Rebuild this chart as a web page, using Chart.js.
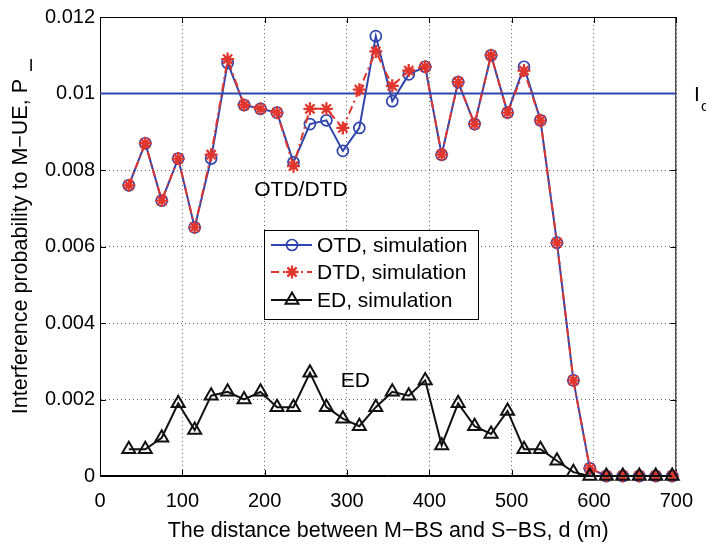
<!DOCTYPE html>
<html>
<head>
<meta charset="utf-8">
<script src="https://cdn.jsdelivr.net/npm/chart.js@4.4.1/dist/chart.umd.min.js"></script>
<style>
  html, body { margin: 0; padding: 0; background: #fff; }
  canvas { display: block; }
</style>
</head>
<body>
<canvas id="chart" width="706" height="547"></canvas>
<script>
// distance between M-BS and S-BS (m)
const distance = [35, 55, 75, 95, 115, 135, 155, 175, 195, 215, 235, 255, 275, 295, 315, 335, 355,
  375, 395, 415, 435, 455, 475, 495, 515, 535, 555, 575, 595, 615, 635, 655, 675, 695];

const otdSim = [0.0076, 0.0087, 0.0072, 0.0083, 0.0065, 0.0083, 0.0108, 0.0097, 0.0096, 0.0095,
  0.0082, 0.0092, 0.0093, 0.0085, 0.0091, 0.0115, 0.0098, 0.0105, 0.0107, 0.0084, 0.0103, 0.0092,
  0.0110, 0.0095, 0.0107, 0.0093, 0.0061, 0.0025, 0.0002, 0, 0, 0, 0, 0];

const dtdSim = [0.0076, 0.0087, 0.0072, 0.0083, 0.0065, 0.0084, 0.0109, 0.0097, 0.0096, 0.0095,
  0.0081, 0.0096, 0.0096, 0.0091, 0.0101, 0.0111, 0.0102, 0.0106, 0.0107, 0.0084, 0.0103, 0.0092,
  0.0110, 0.0095, 0.0106, 0.0093, 0.0061, 0.0025, 0.0002, 0, 0, 0, 0, 0];

const edSim = [0.0007, 0.0007, 0.0010, 0.0019, 0.0012, 0.0021, 0.0022, 0.0020, 0.0022, 0.0018,
  0.0018, 0.0027, 0.0018, 0.0015, 0.0013, 0.0018, 0.0022, 0.0021, 0.0025, 0.0008, 0.0019, 0.0013,
  0.0011, 0.0017, 0.0007, 0.0007, 0.0004, 0.0001, 0, 0, 0, 0, 0, 0];

const icLevel = 0.01;
const xTicks = [0, 100, 200, 300, 400, 500, 600, 700];
const yTicks = [0, 0.002, 0.004, 0.006, 0.008, 0.01, 0.012];
const legendLabels = ['OTD, simulation', 'DTD, simulation', 'ED, simulation'];

const BLUE = '#2f45ad';
const RED = '#e2362c';
const FONT = '"Liberation Sans", Arial, Helvetica, sans-serif';

const toPoints = ys => distance.map((d, i) => ({ x: d, y: ys[i] }));

// axes box + inward ticks (matlab style)
const frame = {
  id: 'frame',
  beforeDatasetsDraw(chart) {
    const { ctx, chartArea: a, scales: { x, y } } = chart;
    ctx.save();
    ctx.strokeStyle = '#000';
    ctx.lineWidth = 1;
    ctx.strokeRect(a.left + 0.5, a.top + 0.5, a.right - a.left - 1, a.bottom - a.top - 1);
    ctx.beginPath();
    xTicks.forEach(t => {
      const px = Math.round(x.getPixelForValue(t)) + 0.5;
      ctx.moveTo(px, a.bottom); ctx.lineTo(px, a.bottom - 6);
      ctx.moveTo(px, a.top); ctx.lineTo(px, a.top + 6);
    });
    yTicks.forEach(t => {
      const py = Math.round(y.getPixelForValue(t)) + 0.5;
      ctx.moveTo(a.left, py); ctx.lineTo(a.left + 6, py);
      ctx.moveTo(a.right, py); ctx.lineTo(a.right - 6, py);
    });
    ctx.stroke();
    ctx.restore();
  }
};

// labels, legend, axis titles
const extras = {
  id: 'extras',
  afterDraw(chart) {
    const { ctx, chartArea: a, scales: { x, y } } = chart;
    ctx.save();
    ctx.fillStyle = '#000';
    ctx.textBaseline = 'middle';
    ctx.textAlign = 'center';
    ctx.font = '21px ' + FONT;
    ctx.fillText('OTD/DTD', x.getPixelForValue(244), y.getPixelForValue(0.00747));
    ctx.fillText('ED', x.getPixelForValue(310), y.getPixelForValue(0.00248));

    // I_c next to the threshold line
    const yc = y.getPixelForValue(icLevel);
    ctx.textAlign = 'left';
    ctx.textBaseline = 'alphabetic';
    ctx.fillText('I', 694, yc + 7);
    ctx.font = '15px ' + FONT;
    ctx.fillText('c', 701, yc + 17);

    // x title
    ctx.font = '21.5px ' + FONT;
    ctx.textAlign = 'center';
    ctx.fillText('The distance between M\u2212BS and S\u2212BS, d (m)', (a.left + a.right) / 2, 537);

    // y title, subscript stays upright like the original
    const main = 'Interference probability to M\u2212UE, P';
    const w = ctx.measureText(main).width;
    ctx.save();
    ctx.translate(27, 79 + w);
    ctx.rotate(-Math.PI / 2);
    ctx.textAlign = 'left';
    ctx.fillText(main, 0, 0);
    ctx.restore();
    ctx.font = '17px ' + FONT;
    ctx.textAlign = 'center';
    ctx.fillText('I', 31, 71);

    // legend
    const box = { l: 264, t: 230, r: 478, b: 319 };
    ctx.fillStyle = '#fff';
    ctx.fillRect(box.l, box.t, box.r - box.l, box.b - box.t);
    ctx.strokeStyle = '#000';
    ctx.lineWidth = 1;
    ctx.strokeRect(box.l + 0.5, box.t + 0.5, box.r - box.l, box.b - box.t);
    const rows = [245, 272, 300];
    legendLabels.forEach((label, i) => {
      const ds = chart.data.datasets[i];
      const ry = rows[i];
      ctx.save();
      ctx.strokeStyle = ds.borderColor;
      ctx.lineWidth = ds.borderWidth;
      ctx.setLineDash(ds.borderDash || []);
      ctx.beginPath();
      ctx.moveTo(271, ry); ctx.lineTo(312, ry);
      ctx.stroke();
      ctx.setLineDash([]);
      ctx.strokeStyle = ds.pointBorderColor;
      ctx.fillStyle = ds.pointBackgroundColor;
      ctx.lineWidth = ds.pointBorderWidth;
      Chart.helpers.drawPoint(ctx, {
        pointStyle: ds.pointStyle, radius: ds.pointRadius, borderWidth: ds.pointBorderWidth, rotation: 0
      }, 292, ry);
      ctx.restore();
      ctx.fillStyle = '#000';
      ctx.font = '21px ' + FONT;
      ctx.textAlign = 'left';
      ctx.textBaseline = 'middle';
      ctx.fillText(label, 317, ry + 1);
    });
    ctx.restore();
  }
};

new Chart(document.getElementById('chart'), {
  type: 'line',
  data: {
    datasets: [
      {
        label: legendLabels[0],
        data: toPoints(otdSim),
        borderColor: BLUE,
        borderWidth: 2,
        pointStyle: 'circle',
        pointRadius: 5.5,
        pointBorderWidth: 1.7,
        pointBorderColor: BLUE,
        pointBackgroundColor: 'rgba(0,0,0,0)',
        order: 3,
        clip: false
      },
      {
        label: legendLabels[1],
        data: toPoints(dtdSim),
        borderColor: RED,
        borderWidth: 2,
        borderDash: [8, 4, 2, 4],
        pointStyle: 'star',
        pointRadius: 6.5,
        pointBorderWidth: 2.3,
        pointBorderColor: RED,
        pointBackgroundColor: RED,
        order: 2,
        clip: false
      },
      {
        label: legendLabels[2],
        data: toPoints(edSim),
        borderColor: '#111',
        borderWidth: 2,
        pointStyle: 'triangle',
        pointRadius: 7.5,
        pointBorderWidth: 2,
        pointBorderColor: '#111',
        pointBackgroundColor: 'rgba(0,0,0,0)',
        order: 1,
        clip: false
      },
      {
        label: 'I_c',
        data: [{ x: 0, y: icLevel }, { x: 700, y: icLevel }],
        borderColor: BLUE,
        borderWidth: 2,
        pointRadius: 0,
        order: 4
      }
    ]
  },
  options: {
    responsive: false,
    animation: false,
    devicePixelRatio: 1,
    layout: { padding: { top: 12, right: 26, left: 0, bottom: 0 } },
    plugins: { legend: { display: false }, tooltip: { enabled: false } },
    elements: { line: { tension: 0 } },
    scales: {
      x: {
        type: 'linear',
        min: 0,
        max: 700,
        afterFit: s => { s.height = 71; },
        afterBuildTicks: s => { s.ticks = xTicks.map(v => ({ value: v })); },
        ticks: { color: '#000', font: { family: FONT, size: 20 }, padding: 13, maxRotation: 0 },
        grid: { color: 'rgba(0,0,0,0.6)', lineWidth: 1, drawTicks: false },
        border: { display: true, color: '#000', dash: [1, 3] }
      },
      y: {
        min: 0,
        max: 0.012,
        afterFit: s => { s.width = 100; },
        afterBuildTicks: s => { s.ticks = yTicks.map(v => ({ value: v })); },
        ticks: {
          color: '#000', font: { family: FONT, size: 20 }, padding: 5,
          callback: v => String(+v.toFixed(3))
        },
        grid: { color: 'rgba(0,0,0,0.6)', lineWidth: 1, drawTicks: false },
        border: { display: true, color: '#000', dash: [1, 3] }
      }
    }
  },
  plugins: [frame, extras]
});
</script>
</body>
</html>
